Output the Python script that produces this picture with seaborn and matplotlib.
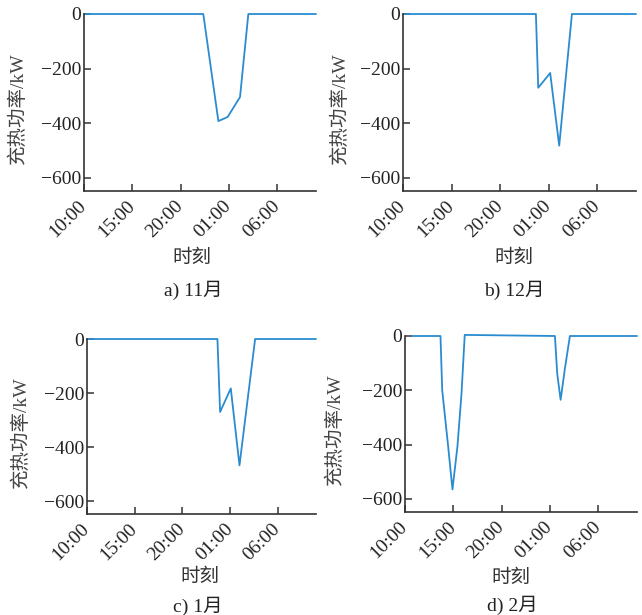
import matplotlib
matplotlib.use('Agg')
import matplotlib.pyplot as plt
import seaborn as sns

# hours counted from 10:00 (0 = 10:00, 24 = 10:00 next day)
tick_hours = [0, 5, 10, 15, 20]
tick_labels = ['10:00', '15:00', '20:00', '01:00', '06:00']
y_ticks = [0, -200, -400, -600]

nov_hours = [0, 12.34, 13.9, 14.86, 16.14, 17.0, 24]
nov_power = [0, 0, -392, -377, -304, 0, 0]

dec_hours = [0, 13.69, 13.93, 15.16, 16.09, 17.40, 24]
dec_power = [0, 0, -270, -216, -482, 0, 0]

jan_hours = [0, 13.67, 13.95, 15.07, 15.98, 17.62, 24]
jan_power = [0, 0, -270, -183, -468, 0, 0]

feb_hours = [0.75, 3.67, 3.85, 4.46, 4.91, 5.43, 5.84, 6.18, 15.51, 15.75, 16.10, 16.54, 17.06, 24]
feb_power = [0, 0, -200, -405, -565, -405, -215, 4, 0, -140, -235, -120, 0, 0]

captions = ['a) 11月', 'b) 12月', 'c) 1月', 'd) 2月']

sns.set_style('ticks')
plt.rcParams['font.family'] = ['Liberation Serif', 'Noto Sans CJK SC']
plt.rcParams['axes.unicode_minus'] = True

W, H = 642, 615
fig = plt.figure(figsize=(W / 100, H / 100), dpi=100)

# panel boxes in pixels: left, top, width, height
boxes = [(84, 14, 232, 177), (403, 14, 233, 177), (87, 339, 229, 175), (405, 336, 232, 176)]
ylab_right = [27, 349, 30, 344]   # x pixel of the right edge of the y label
xlab_pos = [(192, 258), (514, 258), (200, 577), (511, 578)]
cap_pos = [(193, 290), (514, 290), (198, 606), (512, 605)]
series = [(nov_hours, nov_power), (dec_hours, dec_power), (jan_hours, jan_power), (feb_hours, feb_power)]

line_color = '#2a8cd0'
dark = '#333333'

for i, (box, (hx, py)) in enumerate(zip(boxes, series)):
    l, t, w, h = box
    ax = fig.add_axes([l / W, (H - t - h) / H, w / W, h / H])
    sns.lineplot(x=hx, y=py, ax=ax, color=line_color, linewidth=1.3, clip_on=False)
    ax.set_xlim(0, 24)
    ax.set_ylim(-648, 0)
    ax.set_xticks(tick_hours)
    ax.set_xticklabels(tick_labels, rotation=45, ha='right', va='center', rotation_mode='anchor')
    ax.set_yticks(y_ticks)
    sns.despine(ax=ax)
    for s in ['left', 'bottom']:
        ax.spines[s].set_color(dark)
        ax.spines[s].set_linewidth(1.2)
    ax.tick_params(direction='in', length=5, width=1.1, color=dark, labelcolor='#222222', labelsize=14)
    ax.tick_params(axis='x', pad=9)
    ax.tick_params(axis='y', pad=2)

    ax.set_ylabel('充热功率/kW', fontsize=14, color='#444444')
    ax.yaxis.set_label_coords((ylab_right[i] - l) / w, 0.47)

    xl, yl = xlab_pos[i]
    ax.set_xlabel('时刻', fontsize=14, color='#333333', va='center')
    ax.xaxis.set_label_coords((xl - l) / w, -(yl - t - h) / h)

    cx, cy = cap_pos[i]
    fig.text(cx / W, 1 - cy / H, captions[i], ha='center', va='center', fontsize=14, color='#222222')

fig.savefig('out.png', dpi=100, facecolor='white')
